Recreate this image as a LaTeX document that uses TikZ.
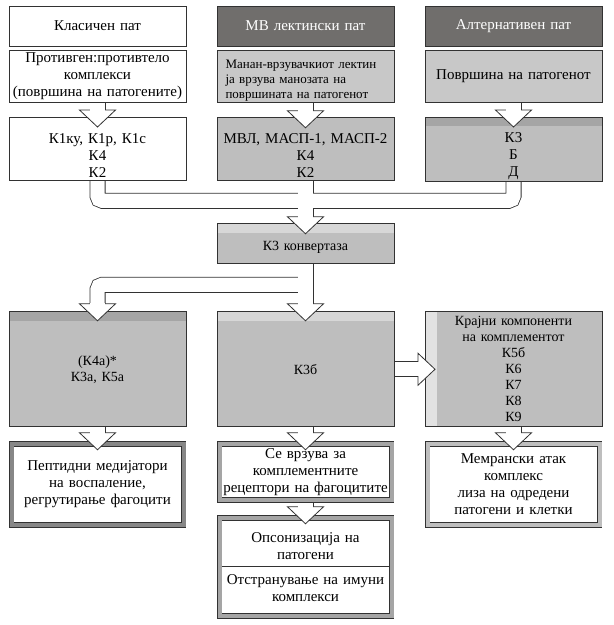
\documentclass[tikz,border=0pt]{standalone}
\usepackage{fontspec}
\setmainfont{Liberation Serif}
\usetikzlibrary{positioning,calc,backgrounds}

\definecolor{edge}{RGB}{50,50,50}
\definecolor{darkfill}{RGB}{112,110,108}
\definecolor{lightfill}{RGB}{200,200,200}
\definecolor{midfill}{RGB}{190,190,190}
\definecolor{bandfill}{RGB}{165,165,165}
\definecolor{palefill}{RGB}{215,215,215}
\definecolor{stripfill}{RGB}{226,226,226}
\definecolor{framedark}{RGB}{135,135,135}
\definecolor{framemid}{RGB}{165,165,165}
\definecolor{framelight}{RGB}{190,190,190}

\begin{document}
\begin{tikzpicture}[x=1pt,y=-1pt,node distance=4pt,
	main box/.style={rectangle,draw=edge,line width=0.8pt,fill=white,inner sep=2pt,outer sep=0pt,
		minimum width=177pt,text width=173pt,align=center,font=\fontsize{15}{17}\selectfont},
	path box/.style={main box,fill=darkfill,text=white},
	grey box/.style={main box,fill=#1},
	small text/.style={font=\fontsize{14}{16}\selectfont},
	text shift/.style={execute at begin node={\rule{0pt}{#1}}},
	result box/.style={main box,double=#1,double distance=4pt,minimum width=172pt,text width=166pt},
	top band/.style={path picture={\fill[#1] (path picture bounding box.north west) rectangle ([yshift=-9pt]path picture bounding box.north east);}},
	left band/.style={path picture={\fill[#1] (path picture bounding box.north west) rectangle ([xshift=12pt]path picture bounding box.south west);}},
	head/.style={draw=edge,fill=white,line width=0.8pt,line join=miter}]

	\useasboundingbox (0,0) rectangle (614,625);

	% three pathways
	\node[main box,minimum height=40pt,anchor=north west] (a1) at (9,6) {Класичен пат};
	\node[path box,minimum height=40pt,right=31pt of a1] (b1) {МВ лектински пат};
	\node[path box,minimum height=40pt,right=31pt of b1] (c1) {Алтернативен пат};

	\node[main box,minimum height=52pt,below=of a1] (a2) {Противген:противтело\\комплекси\\(површина на патогените)};
	\node[grey box=lightfill,minimum height=52pt,text width=160pt,align=left,text shift=16pt,
		font=\fontsize{13}{15}\selectfont,below=of b1] (b2) {Манан-врзувачкиот лектин\\ја врзува манозата на\\површината на патогенот};
	\node[grey box=lightfill,minimum height=52pt,below=of c1] (c2) {Површина на патогенот};

	\node[main box,minimum height=63pt,text shift=23pt,below=15pt of a2] (a3) {К1ку, К1р, К1с\\К4\\К2};
	\node[grey box=midfill,minimum height=63pt,text shift=23pt,below=15pt of b2] (b3) {МВЛ, МАСП-1, МАСП-2\\К4\\К2};
	\node[grey box=midfill,top band=bandfill,minimum height=63pt,text shift=23pt,below=15pt of c2] (c3) {К3\\Б\\Д};

	% convertase and products
	\node[grey box=midfill,top band=palefill,small text,text shift=16pt,minimum height=40pt,below=43pt of b3] (k3) {К3 конвертаза};
	\node[grey box=midfill,top band=palefill,small text,minimum height=115pt,below=48pt of k3] (b4) {К3б};
	\node[grey box=midfill,top band=bandfill,small text,minimum height=115pt,left=31pt of b4] (a4) {(К4а)*\\К3а, К5а};
	\node[grey box=midfill,left band=stripfill,small text,minimum height=115pt,right=31pt of b4] (c4) {Крајни компоненти\\на комплементот\\К5б\\К6\\К7\\К8\\К9};

	% effects
	\node[result box=framedark,minimum height=81pt,below=17pt of a4] (a5) {Пептидни медијатори\\на воспаление,\\регрутирање фагоцити};
	\node[result box=framemid,minimum height=56pt,below=17pt of b4] (b5) {Се врзува за\\комплементните\\рецептори на фагоцитите};
	\node[result box=framelight,minimum height=81pt,below=17pt of c4] (c5) {Мемрански атак\\комплекс\\лиза на одредени\\патогени и клетки};
	\node[result box=framemid,minimum height=98pt,below=18pt of b5] (b6) {Опсонизација на\\патогени\\[8pt]Отстранување на имуни\\комплекси};
	\draw[draw=edge,line width=0.8pt] ([xshift=2.4pt]b6.west) -- ([xshift=-2.4pt]b6.east);

	% arrow heads sit here
	\coordinate (ta) at ($(a2.south)+(0,8)$);
	\coordinate (tb) at ($(b2.south)+(0,8)$);
	\coordinate (tc) at ($(c2.south)+(0,8)$);
	\coordinate (h1) at ($(k3.north)+(0,-7)$);
	\coordinate (h2) at ($(a4.north)+(0,-8)$);
	\coordinate (h3) at ($(b4.north)+(0,-8)$);
	\coordinate (h4) at ($(a4.south)+(0,6)$);
	\coordinate (h5) at ($(b4.south)+(0,6)$);
	\coordinate (h6) at ($(c4.south)+(0,6)$);
	\coordinate (h7) at ($(b5.south)+(0,7)$);
	\coordinate (h8) at ($(b4.east)+(24,0)$);

	% hollow pipes
	\begin{pgfonlayer}{background}
	\fill[white] (0,0) rectangle (614,625);
	\foreach \lw/\col in {16/edge,14.4/white}{
		\draw[line width=\lw pt,draw=\col] (a2.south) -- (ta) (b2.south) -- (tb) (c2.south) -- (tc);
		\draw[line width=\lw pt,draw=\col,rounded corners=5pt] (a3.south) |- ($(b3.south)+(0,20)$);
		\draw[line width=\lw pt,draw=\col,rounded corners=5pt] (c3.south) |- ($(b3.south)+(0,20)$);
		\draw[line width=\lw pt,draw=\col] (b3.south) -- (h1) (k3.south) -- (h3);
		\draw[line width=\lw pt,draw=\col,rounded corners=5pt] ($(k3.south)+(0,21)$) -| (h2);
		\draw[line width=\lw pt,draw=\col] (a4.south) -- (h4) (b4.south) -- (h5) (c4.south) -- (h6)
			(b5.south) -- (h7) (b4.east) -- (h8);
	}
	\end{pgfonlayer}

	\foreach \h in {ta,tb,tc,h1,h2,h3,h4,h5,h6,h7}{
		\draw[head] (\h) ++(-18,0) -- ++(36,0) -- ++(-18,17) -- cycle;
		\draw[draw=white,line width=14.4pt] ([yshift=1pt]\h) -- ([yshift=-3pt]\h);
	}
	\draw[head] (h8) ++(0,-16) -- ++(0,32) -- ++(17,-16) -- cycle;
	\draw[draw=white,line width=14.4pt] ([xshift=-1pt]h8) -- ([xshift=3pt]h8);

\end{tikzpicture}
\end{document}
